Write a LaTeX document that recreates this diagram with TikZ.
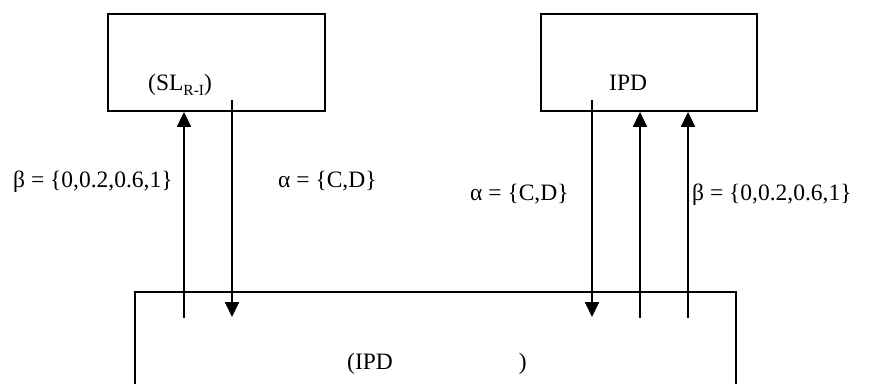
\documentclass[tikz,border=0pt]{standalone}
\usepackage{fontspec}
\setmainfont{Liberation Serif}
\usetikzlibrary{arrows.meta}
\begin{document}
\begin{tikzpicture}[x=1pt,y=-1pt,
  box/.style={draw, line width=1.8pt, rectangle, inner sep=0pt},
  conn/.style={line width=1.8pt, -{Triangle[width=14pt,length=15pt]}},
  lbl/.style={anchor=base west, inner sep=0pt, font=\fontsize{23.5}{28}\selectfont}]
\useasboundingbox (0,0) rectangle (869,383);
\clip (0,0) rectangle (869,383);
\fill[white] (0,0) rectangle (869,383);
% boxes
\node[box, minimum width=217pt, minimum height=97pt] (tl) at (216.5,62.5) {};
\node[box, minimum width=216pt, minimum height=97pt] (tr) at (649,62.5) {};
\node[box, minimum width=601pt, minimum height=200pt] (bot) at (435.5,392) {};
% texts
\node[lbl] (sl) at (148,90) {(SL\raisebox{-0.22em}{\fontsize{15.5}{16}\selectfont R-I})};
\node[lbl] (ipd) at (609,90) {IPD};
\node[lbl] (bl) at (13,187) {β = \{0,0.2,0.6,1\}};
\node[lbl] (al) at (278,187) {α = \{C,D\}};
\node[lbl] (ar) at (470,200) {α = \{C,D\}};
\node[lbl] (br) at (692,200) {β = \{0,0.2,0.6,1\}};
\node[lbl] (bt) at (347,369) {(IPD\hspace{126pt})};
% connector end points
\coordinate (s1) at (184,318);
\coordinate (s2) at (232,100);
\coordinate (s3) at (592,100);
\coordinate (s4) at (640,318);
\coordinate (s5) at (688,318);
\draw[conn] (s1) -- (s1 |- tl.south);
\draw[conn] (s2) -- (232,317);
\draw[conn] (s3) -- (592,317);
\draw[conn] (s4) -- (s4 |- tr.south);
\draw[conn] (s5) -- (s5 |- tr.south);
\end{tikzpicture}
\end{document}
